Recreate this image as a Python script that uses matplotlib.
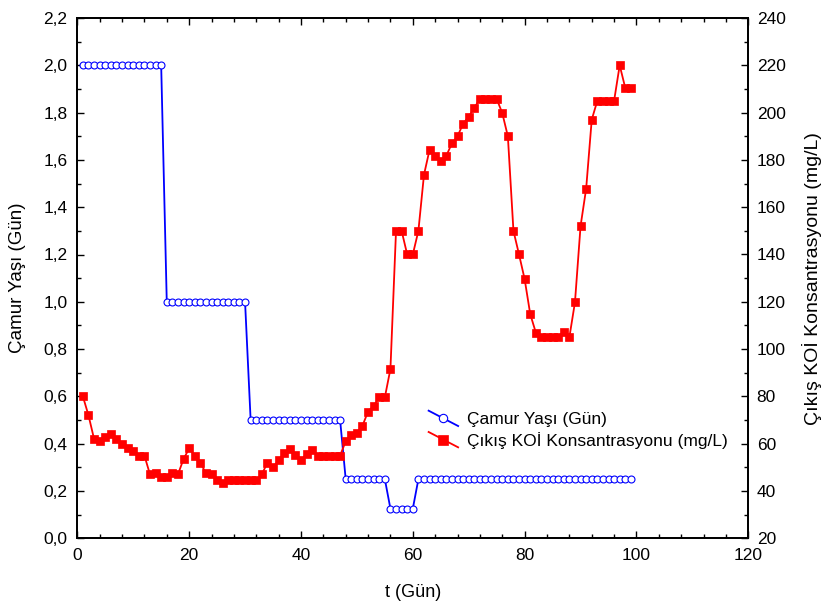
import numpy as np
import matplotlib
matplotlib.use("Agg")
import matplotlib.pyplot as plt
from matplotlib.lines import Line2D
from matplotlib.legend_handler import HandlerLine2D
from matplotlib.ticker import MultipleLocator, FuncFormatter

plt.rcParams['font.family'] = ['Liberation Sans', 'DejaVu Sans']

# ---- data ----
days = list(range(1, 100))
camur_yasi = [2.0] * 15 + [1.0] * 15 + [0.5] * 17 + [0.25] * 8 + [0.125] * 5 + [0.25] * 39

koi_days = list(range(1, 100))
koi = [80, 72, 62, 61, 63, 64, 62, 60, 58, 57,
       55, 55, 47, 47.5, 46, 46, 47.5, 47, 53.5, 58,
       55, 52, 47.5, 47, 44.7, 43.3, 44.7, 44.7, 44.7, 44.7,
       44.7, 44.7, 47, 52, 50, 53, 56, 57.6, 55.2, 53,
       55.7, 57.4, 55, 55, 55, 55, 55, 61, 63.7, 64.7,
       67.6, 73.6, 76, 79.6, 79.6, 91.6, 150, 150, 140, 140,
       150, 173.7, 184.3, 181.7, 179.6, 181.8, 187, 190, 195.3, 198.3,
       202, 205.8, 205.8, 205.8, 205.8, 199.8, 190, 150, 140, 129.6,
       114.8, 107, 105, 105, 105, 105, 107.4, 105, 119.8, 152,
       167.8, 197, 205, 205, 205, 205, 220, 210.4, 210.4]

x_ticks = [0, 20, 40, 60, 80, 100, 120]
left_ticks = [0.0, 0.2, 0.4, 0.6, 0.8, 1.0, 1.2, 1.4, 1.6, 1.8, 2.0, 2.2]
right_ticks = [20, 40, 60, 80, 100, 120, 140, 160, 180, 200, 220, 240]

label_left = "Çamur Yaşı (Gün)"
label_right = "Çıkış KOİ Konsantrasyonu (mg/L)"
label_x = "t (Gün)"


class DiagHandler(HandlerLine2D):
    def create_artists(self, legend, orig_handle, xdescent, ydescent,
                       width, height, fontsize, trans):
        x0 = -xdescent
        x1 = x0 + width
        yc = -ydescent + height / 2.0
        dy = width * 0.26
        line = Line2D([x0, x1], [yc + dy, yc - dy],
                      color=orig_handle.get_color(),
                      lw=orig_handle.get_linewidth())
        mk = Line2D([(x0 + x1) / 2], [yc], linestyle='none',
                    marker=orig_handle.get_marker(),
                    markersize=orig_handle.get_markersize() * 1.2,
                    markerfacecolor=orig_handle.get_markerfacecolor(),
                    markeredgecolor=orig_handle.get_markeredgecolor(),
                    markeredgewidth=orig_handle.get_markeredgewidth())
        line.set_transform(trans)
        mk.set_transform(trans)
        return [line, mk]


fig = plt.figure(figsize=(8.25, 6.08), dpi=100)
ax = fig.add_axes([77.3 / 825, 1 - 538.3 / 608, (748.3 - 77.3) / 825, (538.3 - 18) / 608])
ax2 = ax.twinx()

fs = 12.5
l1, = ax.plot(days, camur_yasi, color='#0000FF', lw=1.3, marker='o',
              markersize=5, markerfacecolor='white', markeredgecolor='#0000FF',
              markeredgewidth=0.8, label=label_left)
l2, = ax2.plot(koi_days, koi, color='#FF0000', lw=1.3, marker='s',
               markersize=5.5, markerfacecolor='#FF0000', markeredgecolor='#FF0000',
               markeredgewidth=0.5, label=label_right)

ax.set_xlim(0, 120)
ax.set_ylim(0, 2.2)
ax2.set_ylim(20, 240)
ax.set_xticks(x_ticks)
ax.set_yticks(left_ticks)
ax2.set_yticks(right_ticks)
ax.xaxis.set_minor_locator(MultipleLocator(4))
ax.yaxis.set_minor_locator(MultipleLocator(0.1))
ax2.yaxis.set_minor_locator(MultipleLocator(10))

comma = FuncFormatter(lambda v, p: f"{v:.1f}".replace('.', ','))
ax.yaxis.set_major_formatter(comma)

ax.tick_params(axis='both', which='both', direction='in', labelsize=fs, width=1.0)
ax.tick_params(axis='x', which='both', top=True)
ax.tick_params(which='major', length=5)
ax.tick_params(which='minor', length=3)
ax.tick_params(axis='x', which='major', pad=7)
ax.tick_params(axis='y', which='major', pad=7)
ax2.tick_params(axis='y', which='both', direction='in', labelsize=fs, width=1.0)
ax2.tick_params(which='major', length=5, pad=6)
ax2.tick_params(which='minor', length=3)

for a in (ax, ax2):
    for s in a.spines.values():
        s.set_linewidth(1.3)

ax.set_xlabel(label_x, fontsize=13)
ax.set_ylabel(label_left, fontsize=13.5)
ax2.set_ylabel(label_right, fontsize=14)
ax.xaxis.set_label_coords(0.5, -0.088)
ax.yaxis.set_label_coords(-0.077, 0.5)
ax2.yaxis.set_label_coords(1.080, 0.5)

leg = fig.legend([l1, l2], [label_left, label_right], loc='center left',
                 bbox_to_anchor=(413 / 825, 1 - 430.5 / 608), frameon=False,
                 fontsize=fs, handlelength=1.7, handletextpad=0.5,
                 labelspacing=0.25, borderpad=0.4,
                 handler_map={Line2D: DiagHandler()})

fig.savefig("out.png", dpi=100)
